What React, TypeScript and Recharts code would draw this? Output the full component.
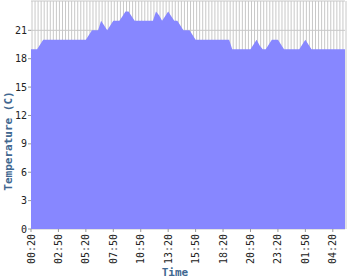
import { AreaChart, Area, XAxis, YAxis, CartesianGrid, Label } from 'recharts';

const temps = [
  19, 19, 19, 19.5, 20, 20, 20, 20, 20, 20, 20, 20, 20, 20, 20, 20, 20, 20, 20, 20.5,
  21, 21, 21, 22, 21.5, 21, 21.5, 22, 22, 22, 22.5, 23, 23, 22.5, 22, 22, 22, 22, 22, 22,
  22, 23, 22.6, 22, 22.5, 23, 22.5, 22, 22, 21.5, 21, 21, 21, 20.5, 20, 20, 20, 20, 20, 20,
  20, 20, 20, 20, 20, 20, 19, 19, 19, 19, 19, 19, 19, 19.5, 20, 19.4, 19, 19, 19.5, 20,
  20, 20, 19.5, 19, 19, 19, 19, 19, 19, 19.5, 20, 19.5, 19, 19, 19, 19, 19, 19, 19, 19,
  19, 19, 19, 19,
];

const tickIdx = [0, 9, 18, 27, 36, 45, 54, 63, 72, 81, 90, 99];
const tickLabels = [
  '00:20', '02:50', '05:20', '07:50', '10:50', '13:20',
  '15:50', '18:20', '20:50', '23:20', '01:50', '04:20',
];
const yTicks = [0, 3, 6, 9, 12, 15, 18, 21];

const data = temps.map((t, i) => ({ i, t }));
const last = temps.length - 1;

const mono = '"DejaVu Sans Mono", monospace';
const titleColor = '#3f6790';

function TimeTick({ x, y, payload }: any) {
  const k = tickIdx.indexOf(payload.value);
  return (
    <g transform={`translate(${x},${y})`}>
      <text
        transform="rotate(-90)"
        textAnchor="end"
        dy="0.35em"
        fontSize={10}
        fontFamily={mono}
        fill="#222"
      >
        {tickLabels[k]}
      </text>
    </g>
  );
}

export default function App() {
  return (
    <div style={{ position: 'absolute', left: 0, top: 0 }}>
      <style>{'body{margin:0}'}</style>
      <AreaChart
        width={350}
        height={280}
        data={data}
        margin={{ top: 1, right: 5, left: 0, bottom: 0 }}
      >
        <CartesianGrid
          stroke="#c8c8c8"
          verticalCoordinatesGenerator={({ offset }: any) =>
            temps.map((_, i) => offset.left + 1 + (i * offset.width) / last)
          }
        />
        <XAxis
          dataKey="i"
          type="number"
          domain={[0, last]}
          ticks={tickIdx}
          interval={0}
          height={51}
          axisLine={false}
          tickSize={3}
          tickMargin={2}
          tickLine={{ stroke: '#999' }}
          tick={<TimeTick />}
        >
          <Label
            content={() => (
              <text
                x={175}
                y={276}
                textAnchor="middle"
                fontSize={11}
                fontWeight="bold"
                fontFamily={mono}
                fill={titleColor}
              >
                Time
              </text>
            )}
          />
        </XAxis>
        <YAxis
          width={31}
          domain={[0, 24.1]}
          ticks={yTicks}
          interval={0}
          axisLine={false}
          tickSize={3}
          tickMargin={1}
          tickLine={{ stroke: '#999' }}
          tick={{ fontSize: 10, fontFamily: mono, fill: '#222' }}
        >
          <Label
            content={() => (
              <text
                x={8}
                y={141}
                transform="rotate(-90 8 141)"
                textAnchor="middle"
                dominantBaseline="central"
                fontSize={11}
                fontWeight="bold"
                fontFamily={mono}
                fill={titleColor}
              >
                Temperature (C)
              </text>
            )}
          />
        </YAxis>
        <Area
          type="linear"
          dataKey="t"
          stroke="none"
          fill="#8787ff"
          fillOpacity={1}
          isAnimationActive={false}
        />
      </AreaChart>
    </div>
  );
}
